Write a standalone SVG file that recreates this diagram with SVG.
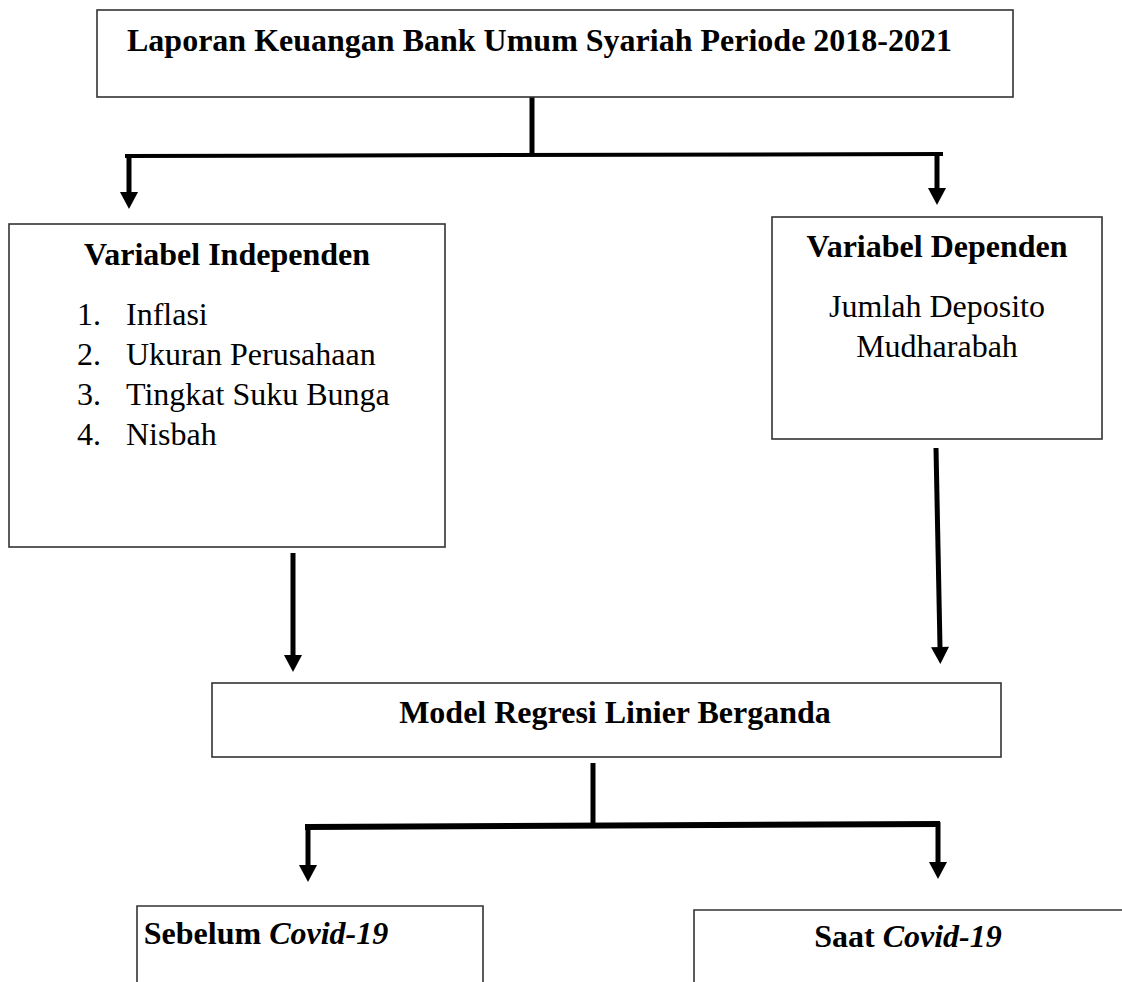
<svg xmlns="http://www.w3.org/2000/svg" width="1122" height="982" viewBox="0 0 1122 982">
<style>
  .box { fill: #ffffff; stroke: #333333; stroke-width: 1.6; }
  .t { font-family: "Liberation Serif", "Times New Roman", serif; font-size: 32px; fill: #000000; }
  .b { font-weight: bold; }
  .bi { font-weight: bold; font-style: italic; }
  .c { fill: none; stroke: #000000; stroke-width: 5; stroke-linecap: butt; }
  .h { fill: none; stroke: #000000; stroke-width: 4; stroke-linecap: square; }
</style>
<defs>
  <marker id="ah" markerUnits="userSpaceOnUse" markerWidth="18" markerHeight="18" refX="0" refY="9" orient="auto" viewBox="0 0 17 18">
    <path d="M0,0 L17,9 L0,18 Z" fill="#000000"/>
  </marker>
</defs>
<rect width="1122" height="982" fill="#ffffff"/>

<g id="connectors">
  <line class="c" x1="532" y1="97" x2="532" y2="155"/>
  <line class="h" x1="127" y1="156" x2="941" y2="154"/>
  <line class="c" x1="129" y1="154" x2="129" y2="192" marker-end="url(#ah)"/>
  <line class="c" x1="937" y1="152" x2="937" y2="188" marker-end="url(#ah)"/>
  <line class="c" x1="293" y1="553" x2="293" y2="655" marker-end="url(#ah)"/>
  <line class="c" x1="936" y1="448" x2="940" y2="647" marker-end="url(#ah)"/>
  <line class="c" x1="593" y1="763" x2="593" y2="826"/>
  <line class="h" style="stroke-width:6" x1="308" y1="827" x2="937" y2="824"/>
  <line class="c" x1="308" y1="824" x2="308" y2="865" marker-end="url(#ah)"/>
  <line class="c" x1="938" y1="822" x2="938" y2="862" marker-end="url(#ah)"/>
</g>

<g id="node-laporan">
  <rect class="box" x="97" y="10" width="916" height="87"/>
  <text class="t b" x="539.5" y="51" text-anchor="middle">Laporan Keuangan Bank Umum Syariah Periode 2018-2021</text>
</g>

<g id="node-independen">
  <rect class="box" x="9" y="224" width="436" height="323"/>
  <text class="t b" x="227" y="265" text-anchor="middle">Variabel Independen</text>
  <text class="t" x="77" y="325">1.</text><text class="t" x="126" y="325">Inflasi</text>
  <text class="t" x="77" y="365">2.</text><text class="t" x="126" y="365">Ukuran Perusahaan</text>
  <text class="t" x="77" y="405">3.</text><text class="t" x="126" y="405">Tingkat Suku Bunga</text>
  <text class="t" x="77" y="445">4.</text><text class="t" x="126" y="445">Nisbah</text>
</g>

<g id="node-dependen">
  <rect class="box" x="772" y="217" width="330" height="222"/>
  <text class="t b" x="937" y="257" text-anchor="middle">Variabel Dependen</text>
  <text class="t" x="937" y="317" text-anchor="middle">Jumlah Deposito</text>
  <text class="t" x="937" y="357" text-anchor="middle">Mudharabah</text>
</g>

<g id="node-model">
  <rect class="box" x="212" y="683" width="789" height="74"/>
  <text class="t b" x="615" y="723" text-anchor="middle">Model Regresi Linier Berganda</text>
</g>

<g id="node-sebelum">
  <path class="box" d="M137,990 L137,906 L483,906 L483,990"/>
  <text class="t b" x="266" y="944" text-anchor="middle">Sebelum <tspan class="bi">Covid-19</tspan></text>
</g>

<g id="node-saat">
  <path class="box" d="M694,990 L694,910 L1130,910"/>
  <text class="t b" x="908" y="947" text-anchor="middle">Saat <tspan class="bi">Covid-19</tspan></text>
</g>
</svg>
